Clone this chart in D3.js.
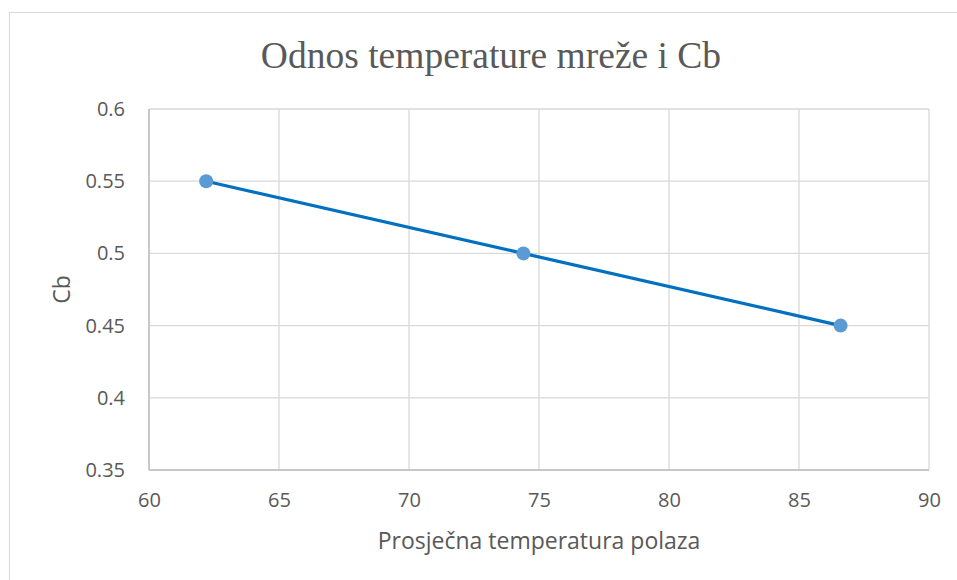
<!DOCTYPE html>
<html><head><meta charset="utf-8">
<script src="https://cdn.jsdelivr.net/npm/d3@7"></script>
<style>body{margin:0;background:#fff}svg{display:block}</style>
</head><body>
<script>
const xValues = [62.2, 74.4, 86.6];
const yValues = [0.55, 0.50, 0.45];
const xTicks = [60, 65, 70, 75, 80, 85, 90];
const yTicks = [0.35, 0.4, 0.45, 0.5, 0.55, 0.6];
const titleText = "Odnos temperature mreže i Cb";
const xTitle = "Prosječna temperatura polaza";
const yTitle = "Cb";

const W = 957, H = 580;
const m = {left:149, right:957-929, top:109, bottom:580-470};
const svg = d3.select("body").append("svg").attr("width", W).attr("height", H);
svg.append("rect").attr("x",9.5).attr("y",12.5).attr("width",W).attr("height",H)
  .attr("fill","#fff").attr("stroke","#d9d9d9").attr("stroke-width",1);

const x = d3.scaleLinear().domain([60,90]).range([m.left, W-m.right]);
const y = d3.scaleLinear().domain([0.35,0.6]).range([H-m.bottom, m.top]);

const g = svg.append("g");
g.selectAll(".vg").data(xTicks).join("line")
  .attr("x1",d=>x(d)).attr("x2",d=>x(d)).attr("y1",y(0.35)).attr("y2",y(0.6))
  .attr("stroke","#d9d9d9").attr("stroke-width",1.3);
g.selectAll(".hg").data(yTicks).join("line")
  .attr("x1",x(60)).attr("x2",x(90)).attr("y1",d=>y(d)).attr("y2",d=>y(d))
  .attr("stroke","#d9d9d9").attr("stroke-width",1.3);
g.append("line").attr("x1",x(60)).attr("x2",x(90)).attr("y1",y(0.35)).attr("y2",y(0.35)).attr("stroke","#bfbfbf").attr("stroke-width",1.5);
g.append("line").attr("x1",x(60)).attr("x2",x(60)).attr("y1",y(0.35)).attr("y2",y(0.6)).attr("stroke","#bfbfbf").attr("stroke-width",1.5);

const font = "'Open Sans', 'Liberation Sans', sans-serif";
const xa = d3.axisBottom(x).tickValues(xTicks).tickSize(0).tickPadding(23).tickFormat(d3.format("d"));
const xg = svg.append("g").attr("transform",`translate(0,${y(0.35)})`).call(xa);
xg.select(".domain").remove();
xg.selectAll("text").attr("font-family",font).attr("font-size",20).attr("fill","#595959");
const ya = d3.axisLeft(y).tickValues(yTicks).tickSize(0).tickPadding(24).tickFormat(d=>String(+d.toFixed(2)));
const yg = svg.append("g").attr("transform",`translate(${x(60)},0)`).call(ya);
yg.select(".domain").remove();
yg.selectAll("text").attr("font-family",font).attr("font-size",20).attr("fill","#595959");

const pts = xValues.map((v,i)=>[v,yValues[i]]);
svg.append("path").datum(pts)
  .attr("d", d3.line().x(d=>x(d[0])).y(d=>y(d[1])))
  .attr("fill","none").attr("stroke","#0070c0").attr("stroke-width",3.2);
svg.selectAll(".pt").data(pts).join("circle")
  .attr("cx",d=>x(d[0])).attr("cy",d=>y(d[1])).attr("r",7).attr("fill","#5b9bd5");

svg.append("text").attr("x",491).attr("y",68).attr("text-anchor","middle")
  .attr("font-family","'Liberation Serif', 'Times New Roman', serif").attr("font-size",37.5).attr("fill","#595959").text(titleText);
svg.append("text").attr("x",539).attr("y",549).attr("text-anchor","middle")
  .attr("font-family",font).attr("font-size",23).attr("fill","#595959").text(xTitle);
svg.append("text").attr("transform",`translate(70,${(y(0.35)+y(0.6))/2}) rotate(-90)`).attr("text-anchor","middle")
  .attr("font-family",font).attr("font-size",23).attr("fill","#595959").text(yTitle);
</script>
</body></html>
